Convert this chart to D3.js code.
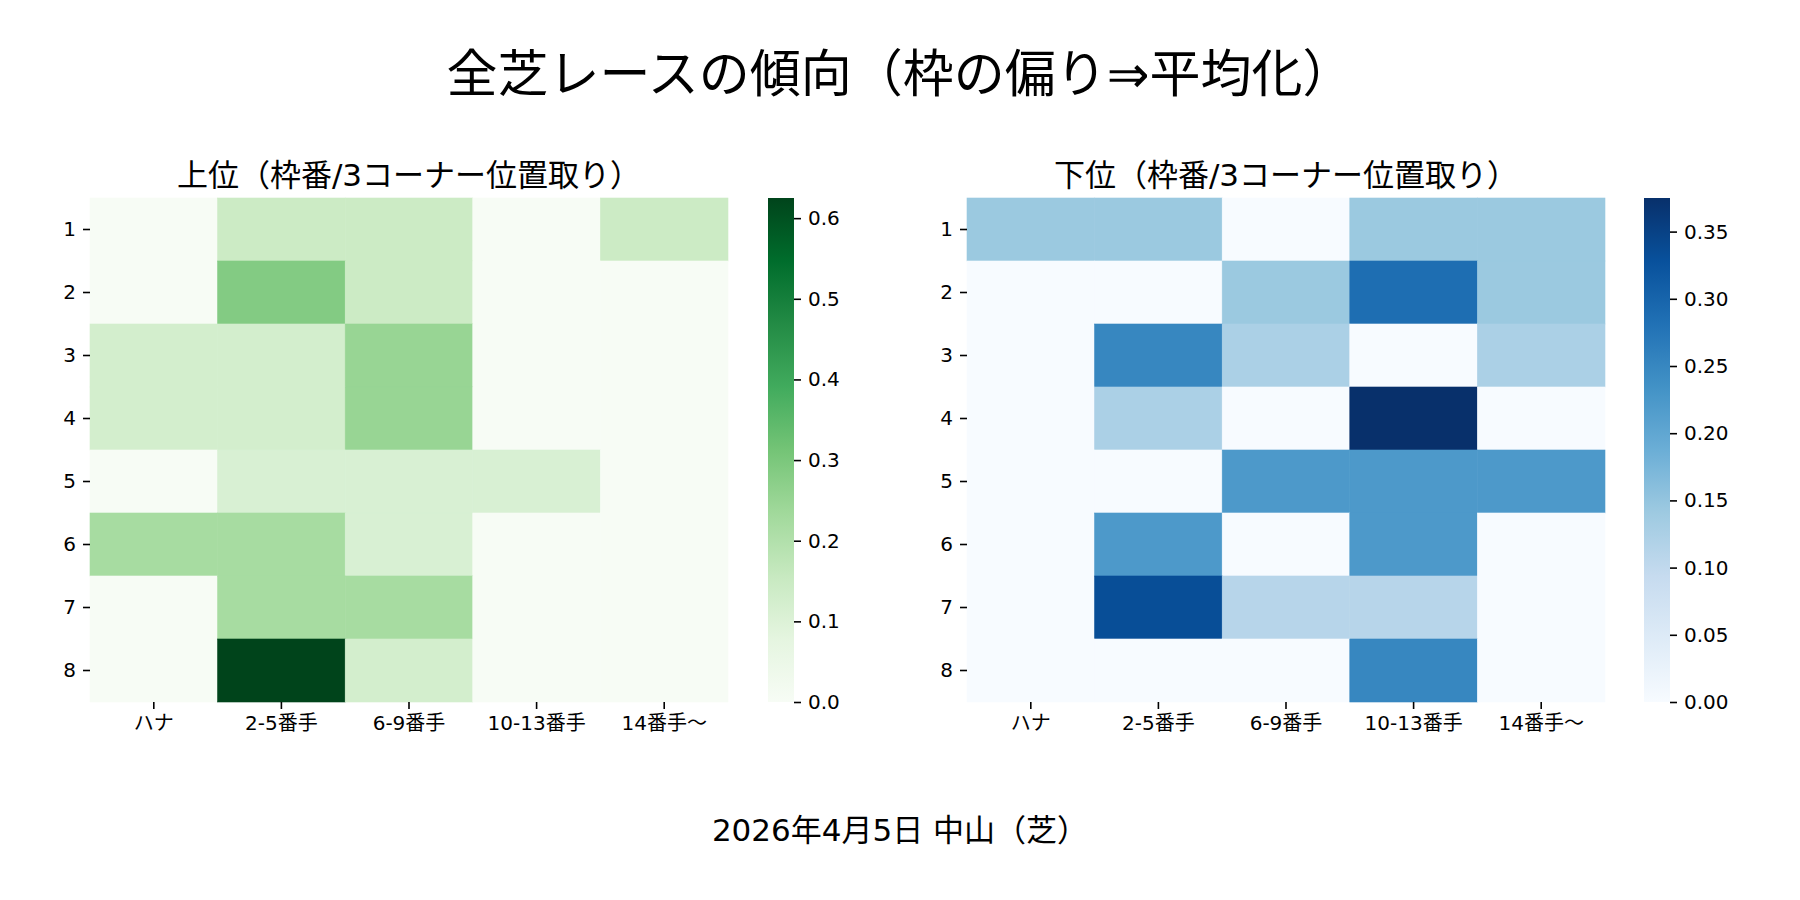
<!DOCTYPE html>
<html>
<head>
<meta charset="utf-8">
<script src="https://cdn.jsdelivr.net/npm/d3@7"></script>
<style>
  body { margin: 0; background: #fff; }
  text { font-family: "DejaVu Sans", "Noto Sans CJK JP", sans-serif; }
</style>
</head>
<body>
<svg id="chart" width="1800" height="900"></svg>
<script>
// ---------------------------------------------------------------------------
// Data
// ---------------------------------------------------------------------------
const rowLabels = ["1", "2", "3", "4", "5", "6", "7", "8"];
const colLabels = ["ハナ", "2-5番手", "6-9番手", "10-13番手", "14番手〜"];

// 上位: share per 枠番 (rows) and 3コーナー位置 (cols)
const topValues = [
    [0,     0.143, 0.143, 0,     0.143],
    [0,     0.286, 0.143, 0,     0],
    [0.125, 0.125, 0.25,  0,     0],
    [0.125, 0.125, 0.25,  0,     0],
    [0,     0.111, 0.111, 0.111, 0],
    [0.222, 0.222, 0.111, 0,     0],
    [0,     0.222, 0.222, 0,     0],
    [0,     0.625, 0.125, 0,     0]
];

// 下位
const bottomValues = [
    [0.143, 0.143, 0,     0.143, 0.143],
    [0,     0,     0.143, 0.286, 0.143],
    [0,     0.25,  0.125, 0,     0.125],
    [0,     0.125, 0,     0.375, 0],
    [0,     0,     0.222, 0.222, 0.222],
    [0,     0.222, 0,     0.222, 0],
    [0,     0.333, 0.111, 0.111, 0],
    [0,     0,     0,     0.25,  0]
];

const topTicks = [0, 0.1, 0.2, 0.3, 0.4, 0.5, 0.6];
const bottomTicks = [0, 0.05, 0.10, 0.15, 0.20, 0.25, 0.30, 0.35];

// matplotlib "Greens" / "Blues" colormap nodes
const greensStops = ["#f7fcf5", "#e5f5e0", "#c7e9c0", "#a1d99b", "#74c476",
                     "#41ab5d", "#238b45", "#006d2c", "#00441b"];
const bluesStops = ["#f7fbff", "#deebf7", "#c6dbef", "#9ecae1", "#6baed6",
                    "#4292c6", "#2171b5", "#08519c", "#08306b"];

const svg = d3.select("#chart");
const FONT = '"DejaVu Sans", "Noto Sans CJK JP", sans-serif';

function styleAxis(g) {
    g.attr("font-size", 20).attr("font-family", FONT);
    g.select(".domain").remove();
    g.selectAll(".tick line").attr("stroke", "#000").attr("stroke-width", 1.6);
    g.selectAll(".tick text").attr("fill", "#000");
}

function drawHeatmap(values, opts) {
    const vmax = d3.max(values.flat());
    const color = d3.scaleLinear()
        .domain(opts.stops.map((_, i) => i / (opts.stops.length - 1) * vmax))
        .range(opts.stops)
        .interpolate(d3.interpolateRgb);

    const x = d3.scaleBand().domain(colLabels).range([opts.x0, opts.x1]);
    const y = d3.scaleBand().domain(rowLabels).range([opts.y0, opts.y1]);

    const g = svg.append("g");

    // Cells
    values.forEach((row, ri) => {
        row.forEach((v, ci) => {
            g.append("rect")
                .attr("x", x(colLabels[ci]))
                .attr("y", y(rowLabels[ri]))
                .attr("width", x.bandwidth())
                .attr("height", y.bandwidth())
                .attr("fill", color(v))
                .attr("stroke", color(v))
                .attr("stroke-width", 0.6);
        });
    });

    // Axes
    g.append("g")
        .attr("transform", `translate(${opts.x0},0)`)
        .call(d3.axisLeft(y).tickSize(7).tickPadding(7))
        .call(styleAxis);

    g.append("g")
        .attr("transform", `translate(0,${opts.y1})`)
        .call(d3.axisBottom(x).tickSize(7).tickPadding(7))
        .call(styleAxis);

    // Title
    g.append("text")
        .attr("x", (opts.x0 + opts.x1) / 2)
        .attr("y", opts.y0 - 12)
        .attr("text-anchor", "middle")
        .style("font-size", "31px")
        .style("fill", "#000")
        .text(opts.title);

    // Colorbar
    const gradId = opts.id + "-grad";
    const grad = svg.append("defs").append("linearGradient")
        .attr("id", gradId)
        .attr("x1", 0).attr("y1", 1).attr("x2", 0).attr("y2", 0);
    opts.stops.forEach((c, i) => {
        grad.append("stop")
            .attr("offset", i / (opts.stops.length - 1))
            .attr("stop-color", c);
    });

    g.append("rect")
        .attr("x", opts.cbX)
        .attr("y", opts.y0)
        .attr("width", opts.cbW)
        .attr("height", opts.y1 - opts.y0)
        .attr("fill", `url(#${gradId})`);

    const cbScale = d3.scaleLinear().domain([0, vmax]).range([opts.y1, opts.y0]);
    g.append("g")
        .attr("transform", `translate(${opts.cbX + opts.cbW},0)`)
        .call(d3.axisRight(cbScale).tickValues(opts.ticks)
            .tickFormat(d3.format(opts.fmt)).tickSize(7).tickPadding(7))
        .call(styleAxis);
}

drawHeatmap(topValues, {
    id: "top", title: "上位（枠番/3コーナー位置取り）",
    x0: 90, x1: 728, y0: 198, y1: 702,
    cbX: 768, cbW: 26,
    stops: greensStops, ticks: topTicks, fmt: ".1f"
});

drawHeatmap(bottomValues, {
    id: "bottom", title: "下位（枠番/3コーナー位置取り）",
    x0: 967, x1: 1605, y0: 198, y1: 702,
    cbX: 1644, cbW: 26,
    stops: bluesStops, ticks: bottomTicks, fmt: ".2f"
});

// Figure title and footer
svg.append("text")
    .attr("x", 900)
    .attr("y", 92)
    .attr("text-anchor", "middle")
    .style("font-size", "51px")
    .style("fill", "#000")
    .text("全芝レースの傾向（枠の偏り⇒平均化）");

svg.append("text")
    .attr("x", 900)
    .attr("y", 841)
    .attr("text-anchor", "middle")
    .style("font-size", "31px")
    .style("fill", "#000")
    .text("2026年4月5日 中山（芝）");
</script>
</body>
</html>
